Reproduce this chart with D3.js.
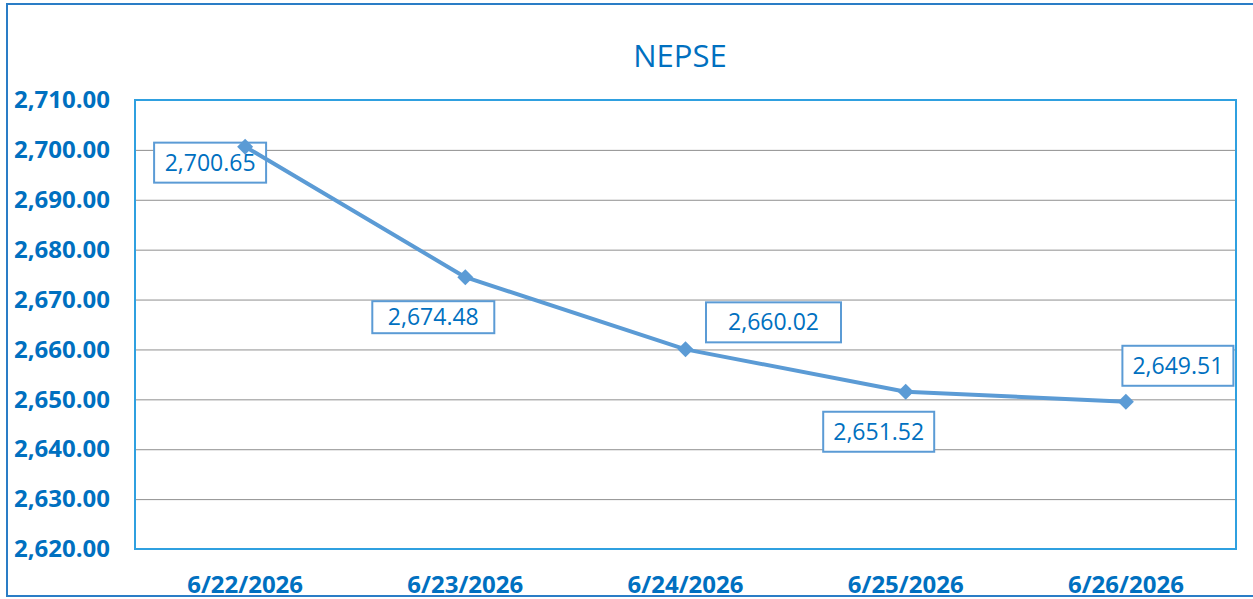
<!DOCTYPE html>
<html>
<head>
<meta charset="utf-8">
<script src="https://cdn.jsdelivr.net/npm/d3@7"></script>
<style>
  html, body { margin: 0; padding: 0; background: #fff; }
  text { font-family: "Open Sans", sans-serif; }
</style>
</head>
<body>
<div id="chart"></div>
<script>
// NEPSE closing values
const dates = ['6/22/2026', '6/23/2026', '6/24/2026', '6/25/2026', '6/26/2026']
const values = [2700.65, 2674.48, 2660.02, 2651.52, 2649.51]
const yTicks = [2620, 2630, 2640, 2650, 2660, 2670, 2680, 2690, 2700, 2710]

// label box placement, relative to each point (dx, dy of box centre, box w, h)
const labelBoxes = [
  { dx: -35, dy: 16, w: 112, h: 40 },
  { dx: -32, dy: 40, w: 122, h: 32 },
  { dx: 88, dy: -27, w: 135, h: 40 },
  { dx: -27, dy: 40, w: 111, h: 40 },
  { dx: 52, dy: -36, w: 111, h: 40 }
]

var width = 1253
var height = 599
var plot = { left: 135, top: 100, right: 1236, bottom: 549 }

const blue = '#0070C0'
const lineBlue = '#5B9BD5'

const svg = d3.select('#chart')
  .append('svg')
  .attr('width', width)
  .attr('height', height)

// outer chart border (right side falls outside the window)
svg.append('rect')
  .attr('x', 7)
  .attr('y', 4)
  .attr('width', 1260)
  .attr('height', 592)
  .attr('fill', '#fff')
  .attr('stroke', '#2A7DC6')
  .attr('stroke-width', 2)

const xScale = d3.scaleBand()
  .domain(dates)
  .range([plot.left, plot.right])

const yScale = d3.scaleLinear()
  .domain([2620, 2710])
  .range([plot.bottom, plot.top])

// title
svg.append('text')
  .text('NEPSE')
  .attr('x', 680)
  .attr('y', 67)
  .attr('text-anchor', 'middle')
  .attr('font-size', 31)
  .attr('fill', blue)

// gridlines
svg.append('g')
  .attr('class', 'grid')
  .attr('transform', `translate(${plot.left}, 0)`)
  .call(d3.axisLeft(yScale).tickValues(yTicks).tickSize(-(plot.right - plot.left)).tickFormat(''))
  .call(g => g.select('.domain').remove())
  .call(g => g.selectAll('line').attr('stroke', '#8f8f8f').attr('stroke-width', 1))

// y axis labels
const yAxis = d3.axisLeft(yScale)
  .tickValues(yTicks)
  .tickSize(0)
  .tickPadding(0)
  .tickFormat(d3.format(',.2f'))

svg.append('g')
  .attr('transform', 'translate(110, 0)')
  .call(yAxis)
  .call(g => g.select('.domain').remove())
  .call(g => g.selectAll('text')
    .attr('font-family', '"Open Sans", sans-serif')
    .attr('font-size', 24)
    .attr('font-weight', 'bold')
    .attr('fill', blue))

// x axis labels
const xAxis = d3.axisBottom(xScale).tickSize(0).tickPadding(0)

svg.append('g')
  .attr('transform', `translate(0, ${plot.bottom})`)
  .call(xAxis)
  .call(g => g.select('.domain').remove())
  .call(g => g.selectAll('text')
    .attr('dy', null)
    .attr('y', 44)
    .attr('font-family', '"Open Sans", sans-serif')
    .attr('font-size', 24)
    .attr('font-weight', 'bold')
    .attr('fill', blue))

// plot area border
svg.append('rect')
  .attr('x', plot.left)
  .attr('y', plot.top)
  .attr('width', plot.right - plot.left)
  .attr('height', plot.bottom - plot.top)
  .attr('fill', 'none')
  .attr('stroke', '#2FA0E0')
  .attr('stroke-width', 2)

const points = dates.map((d, i) => ({ date: d, value: values[i] }))
const px = d => xScale(d.date) + xScale.bandwidth() / 2
const py = d => yScale(d.value)

// data labels (drawn under the line, as in the original)
const fmt = d3.format(',.2f')
const labels = svg.selectAll('.label')
  .data(points)
  .enter()
  .append('g')
  .attr('class', 'label')
  .attr('transform', (d, i) => `translate(${px(d) + labelBoxes[i].dx}, ${py(d) + labelBoxes[i].dy})`)

labels.append('rect')
  .attr('x', (d, i) => -labelBoxes[i].w / 2)
  .attr('y', (d, i) => -labelBoxes[i].h / 2)
  .attr('width', (d, i) => labelBoxes[i].w)
  .attr('height', (d, i) => labelBoxes[i].h)
  .attr('fill', '#fff')
  .attr('stroke', lineBlue)
  .attr('stroke-width', 2)

labels.append('text')
  .text(d => fmt(d.value))
  .attr('text-anchor', 'middle')
  .attr('y', 8)
  .attr('font-size', 23)
  .attr('fill', blue)

// the line
const line = d3.line().x(px).y(py)

svg.append('path')
  .datum(points)
  .attr('d', line)
  .attr('fill', 'none')
  .attr('stroke', lineBlue)
  .attr('stroke-width', 4)
  .attr('stroke-linejoin', 'round')

// diamond markers
svg.selectAll('.marker')
  .data(points)
  .enter()
  .append('path')
  .attr('class', 'marker')
  .attr('d', 'M0,-8L8,0L0,8L-8,0Z')
  .attr('transform', d => `translate(${px(d)}, ${py(d)})`)
  .attr('fill', lineBlue)
</script>
</body>
</html>
